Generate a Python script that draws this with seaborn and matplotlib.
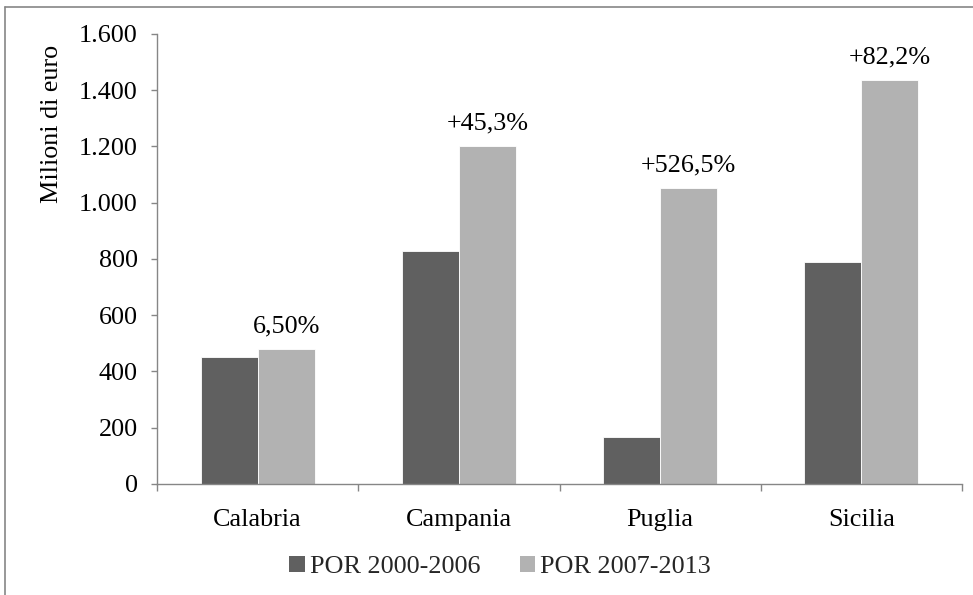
import matplotlib
matplotlib.use("Agg")
import matplotlib.pyplot as plt
from matplotlib.lines import Line2D
from matplotlib.patches import Patch
import seaborn as sns
import pandas as pd

# Regional operational programme funds (millions of euro)
regions = ["Calabria", "Campania", "Puglia", "Sicilia"]
por_2000_2006 = [452, 827, 168, 788]
por_2007_2013 = [481, 1201, 1052, 1437]
series_names = ["POR 2000-2006", "POR 2007-2013"]
change_labels = ["6,50%", "+45,3%", "+526,5%", "+82,2%"]
y_ticks = [0, 200, 400, 600, 800, 1000, 1200, 1400, 1600]
y_tick_labels = ["0", "200", "400", "600", "800", "1.000", "1.200", "1.400", "1.600"]

colors = ["#606060", "#b2b2b2"]
axis_gray = "#868686"
fs = 18.8

df = pd.DataFrame({
    "Regione": regions * 2,
    "Valore": por_2000_2006 + por_2007_2013,
    "Programma": [series_names[0]] * len(regions) + [series_names[1]] * len(regions),
})

sns.set_theme(style="white")
plt.rcParams["font.family"] = ["Liberation Serif", "DejaVu Serif"]

fig = plt.figure(figsize=(9.73, 5.95), dpi=100)
ax = fig.add_axes([0.1614, 0.1866, 0.8273, 0.7563])

sns.barplot(data=df, x="Regione", y="Valore", hue="Programma",
            palette=colors, width=0.567, saturation=1, ax=ax,
            legend=False, edgecolor="white", linewidth=0.6)

ax.set_xlim(-0.5, len(regions) - 0.5)
ax.set_ylim(0, 1600)
ax.set_yticks(y_ticks)
ax.set_yticklabels(y_tick_labels)
ax.set_xlabel("")
ax.set_ylabel("Milioni di euro", fontsize=fs, color="black")
ax.yaxis.set_label_coords(-0.117, 0.80)

for side in ["top", "right"]:
    ax.spines[side].set_visible(False)
for side in ["left", "bottom"]:
    ax.spines[side].set_color(axis_gray)
    ax.spines[side].set_linewidth(1.0)

ax.tick_params(axis="y", which="major", direction="out", length=4,
               width=1.0, color=axis_gray, labelsize=fs,
               labelcolor="black", pad=10, left=True)
ax.tick_params(axis="x", which="major", length=0, labelsize=fs,
               labelcolor="black", pad=18)
ax.set_xticks([i - 0.5 for i in range(len(regions) + 1)], minor=True)
ax.tick_params(axis="x", which="minor", direction="out", length=5,
               width=1.0, color=axis_gray, bottom=True)

# Percentage change above the newer programme's bars
new_bars = ax.containers[1]
for bar, label in zip(new_bars, change_labels):
    ax.annotate(label, (bar.get_x() + bar.get_width() / 2, bar.get_height()),
                xytext=(0, 12), textcoords="offset points",
                ha="center", va="baseline", fontsize=fs, color="black")

handles = [Patch(facecolor=c, edgecolor="none") for c in colors]
fig.legend(handles, series_names, loc="center", bbox_to_anchor=(0.514, 0.047),
           ncol=2, frameon=False, fontsize=fs, handlelength=0.6,
           handleheight=0.6, handletextpad=0.2, columnspacing=1.5)

# Chart frame lines
fig.add_artist(Line2D([0.0055, 0.0055], [0.0, 0.988], transform=fig.transFigure,
                      color=axis_gray, linewidth=1.2))
fig.add_artist(Line2D([0.0055, 1.0], [0.988, 0.988], transform=fig.transFigure,
                      color=axis_gray, linewidth=1.2))

fig.savefig("out.png", dpi=100)
